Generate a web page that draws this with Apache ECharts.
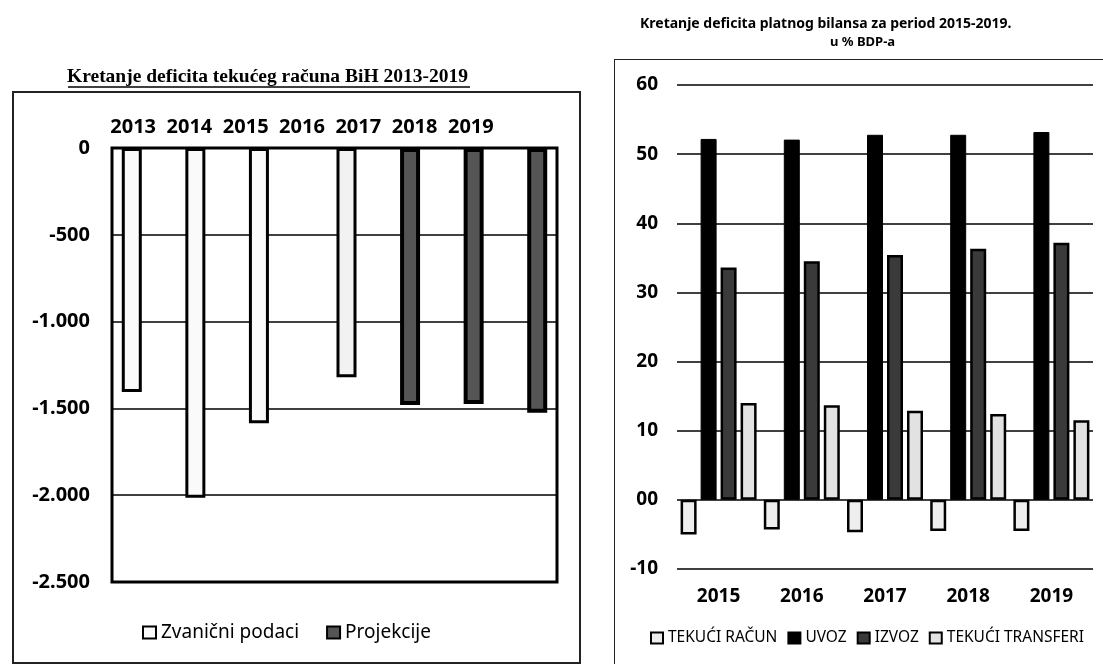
<!DOCTYPE html>
<html>
<head>
<meta charset="utf-8">
<title>Kretanje deficita</title>
<script src="https://cdn.jsdelivr.net/npm/echarts@6.0.0/dist/echarts.min.js"></script>
<style>
  html, body { margin: 0; padding: 0; background: #fff; overflow: hidden; }
  #chart { position: absolute; left: 0; top: 0; width: 1103px; height: 664px; }
  .frame { position: absolute; border: 2px solid #222; pointer-events: none; }
</style>
</head>
<body>
<div id="chart"></div>
<div class="frame" style="left:12px;top:91px;width:565px;height:569px;"></div>
<div class="frame" style="left:614px;top:59px;width:520px;height:640px;border-width:1.5px;"></div>
<script>
// lijevi grafikon: tekući račun BiH
const leftYears = ['2013', '2014', '2015', '2016', '2017', '2018', '2019']
const zvanicniPodaci = [-1405, -2015, -1585, null, null, null, null]
const projekcije = [null, null, null, -1320, -1480, -1475, -1525]

// desni grafikon: platni bilans u % BDP-a
const rightYears = ['2015', '2016', '2017', '2018', '2019']
const tekuciRacun = [-5.0, -4.3, -4.7, -4.5, -4.5]
const uvoz = [52.2, 52.1, 52.8, 52.8, 53.2]
const izvoz = [33.6, 34.5, 35.4, 36.3, 37.2]
const tekuciTransferi = [14.0, 13.7, 12.9, 12.4, 11.5]

function fmtThousands(v) {
  const s = String(Math.abs(v)).replace(/\B(?=(\d{3})+(?!\d))/g, '.')
  return (v < 0 ? '-' : '') + s
}

const chart = echarts.init(document.getElementById('chart'))

const axisFont = { color: '#000', fontFamily: 'Noto Sans', fontWeight: 'bold' }

const option = {
  animation: false,
  backgroundColor: '#fff',
  title: [
    {
      text: 'Kretanje deficita tekućeg računa BiH 2013-2019',
      left: 67,
      top: 67,
      padding: 0,
      textStyle: { fontFamily: 'Liberation Serif', fontWeight: 'bold', fontSize: 19.5, color: '#000' }
    },
    {
      text: 'Kretanje deficita platnog bilansa za period 2015-2019.',
      left: 640,
      top: 17,
      padding: 0,
      textStyle: { fontFamily: 'Noto Sans', fontWeight: 'bold', fontSize: 14, color: '#000' }
    },
    {
      text: 'u % BDP-a',
      left: 830,
      top: 36,
      padding: 0,
      textStyle: { fontFamily: 'Noto Sans', fontWeight: 'bold', fontSize: 13, color: '#000' }
    }
  ],
  graphic: [
    {
      type: 'line',
      shape: { x1: 68, y1: 87, x2: 470, y2: 87 },
      style: { stroke: '#000', lineWidth: 1.5 }
    }
  ],
  legend: [
    {
      data: ['Zvanični podaci', 'Projekcije'],
      left: 142,
      top: 623,
      padding: 0,
      icon: 'rect',
      itemWidth: 13,
      itemHeight: 12,
      itemGap: 27,
      textStyle: { fontFamily: 'Noto Sans', fontSize: 19, color: '#000' }
    },
    {
      data: ['TEKUĆI RAČUN', 'UVOZ', 'IZVOZ', 'TEKUĆI TRANSFERI'],
      left: 650,
      top: 630,
      padding: 0,
      width: 450,
      icon: 'rect',
      itemWidth: 12,
      itemHeight: 11,
      itemGap: 10,
      textStyle: { fontFamily: 'Noto Sans', fontSize: 15.5, color: '#000' }
    }
  ],
  grid: [
    { left: 112, top: 148, width: 445, height: 434, show: true, borderColor: '#000', borderWidth: 3 },
    { left: 105, top: 148, width: 394, height: 434 },
    { left: 677, top: 85, width: 416, height: 484 }
  ],
  xAxis: [
    {
      type: 'category',
      gridIndex: 0,
      data: leftYears,
      position: 'top',
      axisLine: { show: false },
      axisTick: { show: false },
      axisLabel: { show: false }
    },
    {
      // oznake godina iznad grafikona (pomaknute kao u originalu)
      type: 'category',
      gridIndex: 1,
      data: leftYears,
      position: 'top',
      axisLine: { show: false },
      axisTick: { show: false },
      axisLabel: Object.assign({ fontSize: 20, margin: 11, interval: 0 }, axisFont)
    },
    {
      type: 'category',
      gridIndex: 2,
      data: rightYears,
      axisLine: { show: false, onZero: false },
      axisTick: { show: false },
      axisLabel: Object.assign({ fontSize: 19, margin: 18, interval: 0 }, axisFont)
    }
  ],
  yAxis: [
    {
      type: 'value',
      gridIndex: 0,
      min: -2500,
      max: 0,
      interval: 500,
      axisLine: { show: false },
      axisTick: { show: false },
      axisLabel: Object.assign({ fontSize: 20, margin: 22, formatter: fmtThousands }, axisFont),
      splitLine: { lineStyle: { color: '#000', width: 1.5 } }
    },
    {
      type: 'value',
      gridIndex: 1,
      show: false
    },
    {
      type: 'value',
      gridIndex: 2,
      min: -10,
      max: 60,
      interval: 10,
      axisLine: { show: false },
      axisTick: { show: false },
      axisLabel: Object.assign({
        fontSize: 19,
        margin: 19,
        formatter: v => (v === 0 ? '00' : String(v))
      }, axisFont),
      splitLine: { lineStyle: { color: '#000', width: 1.6 } }
    }
  ],
  series: [
    {
      name: 'Zvanični podaci',
      type: 'bar',
      xAxisIndex: 0,
      yAxisIndex: 0,
      data: zvanicniPodaci,
      barWidth: 20,
      barGap: '20%',
      itemStyle: { color: '#fafafa', borderColor: '#000', borderWidth: 3 }
    },
    {
      name: 'Projekcije',
      type: 'bar',
      xAxisIndex: 0,
      yAxisIndex: 0,
      data: projekcije.map((v, i) => (i === 3 ? { value: v, itemStyle: { color: '#f2f2f2', borderWidth: 3 } } : v)),
      barWidth: 20,
      itemStyle: { color: '#555555', borderColor: '#000', borderWidth: 4 }
    },
    {
      name: 'TEKUĆI RAČUN',
      type: 'bar',
      xAxisIndex: 2,
      yAxisIndex: 2,
      data: tekuciRacun,
      barWidth: 16,
      barGap: '25%',
      itemStyle: { color: '#eeeeee', borderColor: '#000', borderWidth: 2.5 }
    },
    {
      name: 'UVOZ',
      type: 'bar',
      xAxisIndex: 2,
      yAxisIndex: 2,
      data: uvoz,
      barWidth: 16,
      itemStyle: { color: '#000', borderColor: '#000', borderWidth: 1 }
    },
    {
      name: 'IZVOZ',
      type: 'bar',
      xAxisIndex: 2,
      yAxisIndex: 2,
      data: izvoz,
      barWidth: 16,
      itemStyle: { color: '#3a3a3a', borderColor: '#000', borderWidth: 2.5 }
    },
    {
      name: 'TEKUĆI TRANSFERI',
      type: 'bar',
      xAxisIndex: 2,
      yAxisIndex: 2,
      data: tekuciTransferi,
      barWidth: 16,
      itemStyle: { color: '#e2e2e2', borderColor: '#000', borderWidth: 2.5 }
    }
  ]
}

chart.setOption(option)
</script>
</body>
</html>
